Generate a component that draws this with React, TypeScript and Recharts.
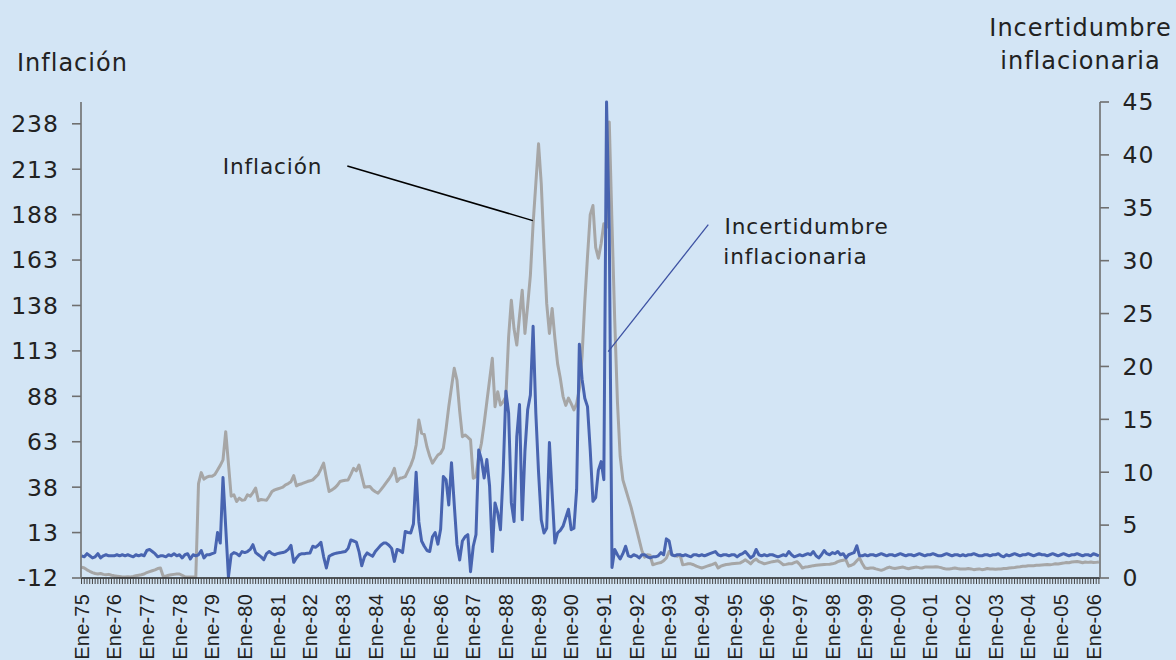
import { LineChart, Line, XAxis, YAxis, ReferenceLine } from 'recharts'

// monthly series, Jan 1975 .. Mar 2006 (one row per year)
const inflacion = [
  -6, -6.5, -7.5, -8.3, -9, -9.5, -9.8, -9.5, -10, -10.2, -10, -10.5,
  -10.8, -11, -11.2, -11.5, -11.5, -11.3, -11.5, -11.2, -10.8, -10.5, -10.2, -9.8,
  -9, -8.5, -8, -7.5, -6.8, -6.5, -11, -11, -10.5, -10.2, -10, -9.8,
  -9.8, -10.5, -11.3, -11.5, -11.5, -11.5, -11.5, 40, 46, 42.4, 43.5, 44,
  44, 45, 47.5, 50, 53, 68.5, 51, 33, 33.8, 30.1, 32, 30.8,
  31, 33.8, 33, 35, 37.5, 30.6, 31.2, 31, 30.8, 33, 35.6, 36.5,
  37, 37.5, 38, 39.3, 40, 41, 44.4, 38.7, 39.5, 39.9, 40.5, 41.1,
  41.5, 42, 43.5, 45, 48, 51.2, 43, 35.6, 36.5, 37.5, 39, 41.1,
  41.5, 41.8, 42, 45, 48.4, 47, 50.2, 44, 38, 38.2, 38.4, 36.6,
  35.5, 34.7, 36.5, 38.4, 40.5, 42.5, 44.8, 48.4, 41.1, 42.9, 43.2, 43.8,
  47, 50, 54, 61.2, 75, 67.7, 67, 60, 55, 51.2, 53.5, 55.7,
  56.7, 59.4, 70, 82.3, 93, 103.4, 97, 80, 65.8, 66.7, 65.5, 64,
  42.9, 43.8, 55, 62.2, 73, 85, 97, 108.9, 82.3, 90.5, 83.2, 85,
  87.8, 120.7, 140.9, 125, 116.2, 132, 146.4, 122.6, 138, 154.6, 183, 205,
  227, 205, 170, 139, 122.6, 136.4, 120, 106, 98, 88, 83, 87,
  84, 80.5, 84, 92, 110, 140, 165, 188, 193, 170, 164, 172,
  183, 181, 239, 183, 130, 85, 55, 42, 37, 32, 27, 21,
  15, 9, 3, -0.5, 0.8, 0.5, -4.7, -4.2, -3.8, -3.5, -2.5, -1,
  2.6, 0.8, 0.3, 0, 0.8, -4.7, -4.5, -4.2, -4.2, -4.7, -5.5, -6,
  -6.5, -6, -5.5, -5, -4.5, -3.8, -6.5, -5.5, -5, -4.6, -4.4, -4.2,
  -4, -3.9, -3.8, -3, -2, -3, -4.2, -2.5, -1.6, -3, -3.5, -4.2,
  -3.8, -3.4, -3, -2.8, -2.5, -3.5, -4.7, -4.5, -4.2, -4.2, -3.5, -3,
  -4.5, -6.5, -6, -5.8, -5.5, -5.2, -5, -4.8, -4.7, -4.6, -4.5, -4.4,
  -4.2, -3.8, -3, -2.5, -2.2, -2, -5.5, -5, -4.2, -2.5, -1, -4,
  -6.5, -6.8, -6.5, -6.5, -7, -7.4, -7.8, -7.2, -6.5, -6, -6.5, -6.8,
  -6.5, -6.2, -6, -6.5, -6.9, -6.5, -6.2, -6, -6.3, -6.5, -6, -5.9,
  -6, -5.9, -5.8, -6, -6.3, -6.8, -7.1, -7, -6.8, -6.5, -6.8, -7,
  -7.1, -7, -6.8, -7, -7.4, -7.2, -7, -7.4, -7.2, -6.8, -7, -7.1,
  -7.2, -7, -7, -6.8, -6.8, -6.5, -6.3, -6.2, -6, -5.8, -5.5, -5.5,
  -5.3, -5.2, -5.2, -5, -5, -4.8, -4.7, -4.6, -4.7, -4.5, -4.2, -4.3,
  -4, -3.8, -3.5, -3.6, -3.2, -3, -2.9, -3.2, -3.6, -3.2, -3.4, -3.2,
  -3.5, -3.4, -3.2,
]

const incertidumbre = [
  2.1, 2.0, 2.3, 2.1, 1.9, 2.0, 2.3, 1.9, 2.1, 2.2, 2.1, 2.1,
  2.1, 2.2, 2.1, 2.2, 2.1, 2.2, 2.1, 2.0, 2.2, 2.1, 2.2, 2.1,
  2.6, 2.7, 2.5, 2.3, 2.0, 2.1, 2.1, 2.0, 2.2, 2.1, 2.3, 2.1,
  2.2, 1.9, 2.2, 2.3, 1.8, 2.2, 2.1, 2.2, 2.6, 1.9, 2.2, 2.2,
  2.3, 2.4, 4.3, 3.3, 9.5, 4.8, 0.1, 2.2, 2.4, 2.3, 2.1, 2.5,
  2.4, 2.5, 2.7, 3.15, 2.4, 2.2, 2.0, 1.73, 2.3, 2.5, 2.3, 2.2,
  2.3, 2.37, 2.4, 2.5, 2.7, 3.08, 1.48, 1.9, 2.2, 2.3, 2.3, 2.35,
  2.37, 3.0, 2.9, 3.1, 3.37, 2.0, 0.95, 2.05, 2.2, 2.3, 2.37, 2.4,
  2.45, 2.5, 2.8, 3.6, 3.5, 3.4, 2.5, 1.16, 2.0, 2.37, 2.2, 2.05,
  2.5, 2.8, 3.1, 3.3, 3.3, 3.1, 2.8, 1.57, 2.7, 2.6, 2.4, 4.4,
  4.3, 4.26, 5.1, 10, 5.3, 3.5, 3.0, 2.6, 2.5, 3.9, 4.3, 3.2,
  4.6, 9.6, 9.3, 6.9, 10.9, 7.0, 3.2, 1.7, 3.5, 3.9, 4.1, 0.6,
  3.0, 4.1, 12.1, 11.2, 9.46, 11.2, 8.7, 2.5, 7.1, 6.15, 4.57, 10,
  17.65, 15.6, 7.1, 5.35, 13.4, 16.4, 5.5, 12, 15.9, 17.3, 23.8, 15.6,
  10, 5.5, 4.26, 4.7, 12.8, 8.0, 3.3, 4.26, 4.5, 4.9, 5.7, 6.5,
  4.57, 4.7, 8.35, 22.1, 18.8, 17.0, 16.2, 12.1, 7.25, 7.6, 10.2, 11,
  9.3, 45, 33, 1.0, 2.7, 2.2, 1.8, 2.3, 3.0, 2.1, 2.0, 2.2,
  2.1, 1.9, 2.2, 2.2, 2.0, 1.9, 2.0, 2.0, 2.1, 2.4, 2.2, 3.7,
  3.5, 2.2, 2.1, 2.2, 2.2, 2.1, 2.2, 2.1, 2.0, 2.2, 2.2, 2.1,
  2.2, 2.1, 2.2, 2.3, 2.4, 2.5, 2.2, 2.1, 2.2, 2.2, 2.1, 2.2,
  2.2, 2.0, 2.2, 2.3, 2.5, 2.2, 1.9, 2.1, 2.7, 2.2, 2.1, 2.2,
  2.1, 2.2, 2.2, 2.1, 2.0, 2.1, 2.2, 2.1, 2.5, 2.2, 2.0, 2.1,
  2.2, 2.1, 2.2, 2.3, 2.2, 2.5, 2.1, 1.9, 2.2, 2.6, 2.3, 2.2,
  2.4, 2.3, 2.5, 2.2, 2.3, 1.9, 2.2, 2.3, 2.4, 3.05, 2.1, 2.1,
  2.2, 2.1, 2.2, 2.2, 2.1, 2.2, 2.3, 2.2, 2.1, 2.2, 2.2, 2.1,
  2.2, 2.3, 2.2, 2.1, 2.2, 2.2, 2.1, 2.2, 2.3, 2.2, 2.1, 2.2,
  2.2, 2.3, 2.2, 2.1, 2.1, 2.2, 2.3, 2.2, 2.1, 2.2, 2.2, 2.1,
  2.2, 2.1, 2.2, 2.2, 2.3, 2.2, 2.1, 2.1, 2.2, 2.2, 2.1, 2.2,
  2.2, 2.3, 2.1, 2.0, 2.2, 2.1, 2.2, 2.3, 2.2, 2.1, 2.2, 2.2,
  2.3, 2.2, 2.1, 2.2, 2.3, 2.2, 2.2, 2.1, 2.2, 2.3, 2.2, 2.1,
  2.2, 2.3, 2.2, 2.1, 2.2, 2.2, 2.3, 2.2, 2.1, 2.2, 2.2, 2.1,
  2.3, 2.2, 2.1,
]

const yearLabels = [
  'Ene-75', 'Ene-76', 'Ene-77', 'Ene-78', 'Ene-79', 'Ene-80', 'Ene-81', 'Ene-82',
  'Ene-83', 'Ene-84', 'Ene-85', 'Ene-86', 'Ene-87', 'Ene-88', 'Ene-89', 'Ene-90',
  'Ene-91', 'Ene-92', 'Ene-93', 'Ene-94', 'Ene-95', 'Ene-96', 'Ene-97', 'Ene-98',
  'Ene-99', 'Ene-00', 'Ene-01', 'Ene-02', 'Ene-03', 'Ene-04', 'Ene-05', 'Ene-06',
]

const leftTicks = [-12, 13, 38, 63, 88, 113, 138, 163, 188, 213, 238]
const rightTicks = [0, 5, 10, 15, 20, 25, 30, 35, 40, 45]

const data = inflacion.map((v, i) => ({ m: i, inflacion: v, incertidumbre: incertidumbre[i] }))
const monthTicks = data.map(d => d.m)

const FONT = 'DejaVu Sans, Verdana, sans-serif'
const TEXT = '#222'

function MonthTick(props: any) {
  const { x, y, payload } = props
  const m = payload.value
  if (m % 12 !== 0) return <g />
  const ty = y + 8
  return (
    <text
      x={x}
      y={ty}
      transform={`rotate(-90, ${x}, ${ty})`}
      textAnchor="end"
      dy="0.36em"
      fill={TEXT}
      fontSize={20}
      fontFamily="Liberation Sans, Arial, sans-serif"
      letterSpacing={0.2}
    >
      {yearLabels[m / 12]}
    </text>
  )
}

export default function App() {
  return (
    <div style={{ position: 'relative', width: 1176, height: 660, background: '#d3e5f5', overflow: 'hidden' }}>
      <style>{'body{margin:0}'}</style>
      <LineChart width={1176} height={660} data={data} margin={{ top: 102, right: 0, bottom: 0, left: 0 }}>
        <XAxis
          dataKey="m"
          type="number"
          domain={[-0.2, 374.4]}
          ticks={monthTicks}
          interval={0}
          tick={<MonthTick />}
          tickSize={6}
          tickLine={{ stroke: '#444', strokeWidth: 1 }}
          axisLine={{ stroke: '#222', strokeWidth: 1.6 }}
          height={82}
        />
        <YAxis
          yAxisId="left"
          domain={[-12, 250]}
          ticks={leftTicks}
          interval={0}
          width={81}
          tickSize={9}
          tickMargin={13}
          axisLine={{ stroke: '#6f6f6f', strokeWidth: 1.6 }}
          tickLine={{ stroke: '#6f6f6f', strokeWidth: 1.6 }}
          tick={{ fill: TEXT, fontSize: 23.5, fontFamily: FONT, letterSpacing: 1 }}
        />
        <YAxis
          yAxisId="right"
          orientation="right"
          domain={[0, 45]}
          ticks={rightTicks}
          interval={0}
          width={76}
          tickSize={9}
          tickMargin={13.5}
          axisLine={{ stroke: '#6f6f6f', strokeWidth: 1.6 }}
          tickLine={{ stroke: '#6f6f6f', strokeWidth: 1.6 }}
          tick={{ fill: TEXT, fontSize: 23.5, fontFamily: FONT, letterSpacing: 1 }}
        />
        <Line
          yAxisId="left"
          dataKey="inflacion"
          stroke="#a6a6a6"
          strokeWidth={3}
          strokeLinejoin="round"
          dot={false}
          isAnimationActive={false}
        />
        <Line
          yAxisId="right"
          dataKey="incertidumbre"
          stroke="#4864b0"
          strokeWidth={3}
          strokeLinejoin="round"
          dot={false}
          isAnimationActive={false}
        />
        <ReferenceLine
          yAxisId="left"
          segment={[{ x: 97.7, y: 214.8 }, { x: 165.9, y: 184.7 }]}
          stroke="#000"
          strokeWidth={1.5}
        />
        <ReferenceLine
          yAxisId="right"
          segment={[{ x: 230.4, y: 33.4 }, { x: 193.6, y: 21.4 }]}
          stroke="#3d52a3"
          strokeWidth={1.3}
        />
      </LineChart>
      <svg width={1176} height={660} style={{ position: 'absolute', left: 0, top: 0, pointerEvents: 'none' }}>
        <g fill={TEXT} fontFamily={FONT}>
          <text x={17} y={70.7} fontSize={24} letterSpacing={1}>Inflación</text>
          <text x={1080.5} y={36} fontSize={24} letterSpacing={1} textAnchor="middle">Incertidumbre</text>
          <text x={1080.5} y={69.3} fontSize={24} letterSpacing={1} textAnchor="middle">inflacionaria</text>
          <text x={222.7} y={174.3} fontSize={21.6} letterSpacing={0.9}>Inflación</text>
          <text x={724.5} y={234.3} fontSize={21.6} letterSpacing={0.9}>Incertidumbre</text>
          <text x={723.3} y={264.3} fontSize={21.6} letterSpacing={0.9}>inflacionaria</text>
        </g>
      </svg>
    </div>
  )
}
